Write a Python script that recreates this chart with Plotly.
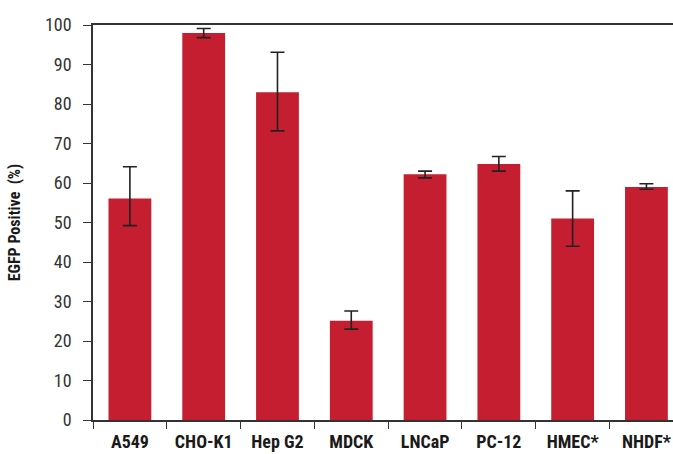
import plotly.graph_objects as go

categories = ["A549", "CHO-K1", "Hep G2", "MDCK", "LNCaP", "PC-12", "HMEC*", "NHDF*"]
values = [56.1, 98.0, 83.0, 25.1, 62.2, 64.8, 51.0, 59.0]
err_plus = [8.0, 1.1, 10.1, 2.5, 0.8, 1.9, 7.0, 0.8]
err_minus = [6.9, 1.2, 9.8, 2.1, 0.9, 1.8, 7.0, 0.6]
y_ticks = [0, 10, 20, 30, 40, 50, 60, 70, 80, 90, 100]

FONT = "Liberation Sans Narrow, Roboto Condensed, DejaVu Sans Condensed, Arial Narrow, sans-serif"

fig = go.Figure(
    go.Bar(
        x=categories,
        y=values,
        marker=dict(color="#C41E30", line=dict(width=0)),
        error_y=dict(
            type="data",
            symmetric=False,
            array=err_plus,
            arrayminus=err_minus,
            color="#222222",
            thickness=1.6,
            width=7,
        ),
    )
)

fig.update_layout(
    width=673,
    height=454,
    margin=dict(l=93, r=0, t=25, b=34, autoexpand=False),
    plot_bgcolor="white",
    paper_bgcolor="white",
    bargap=0.42,
    showlegend=False,
    font=dict(family=FONT, color="#333333"),
)

fig.update_xaxes(
    range=[-0.5, 7.36],
    automargin=False,
    showline=True,
    linecolor="#333333",
    linewidth=1.5,
    mirror=True,
    ticks="outside",
    tickson="boundaries",
    ticklen=7,
    tickwidth=1.2,
    tickcolor="#333333",
    showgrid=False,
    tickfont=dict(family=FONT, size=18, color="#1a1a1a", weight="bold"),
    ticklabelstandoff=5,
)

fig.update_yaxes(
    range=[0, 100],
    automargin=False,
    tickvals=y_ticks,
    showline=True,
    linecolor="#333333",
    linewidth=1.5,
    ticks="outside",
    ticklen=8,
    tickwidth=1.2,
    tickcolor="#333333",
    showgrid=False,
    zeroline=False,
    tickfont=dict(family=FONT, size=18, color="#333333"),
    ticklabelstandoff=8,
    title=dict(
        text="EGFP Positive  (%)",
        font=dict(family=FONT, size=16, color="#1a1a1a", weight="bold"),
        standoff=20,
    ),
)

fig.write_html(
    "out.html",
    config={"displayModeBar": False},
    post_script="document.body.style.margin='0';document.body.style.padding='0';",
)
